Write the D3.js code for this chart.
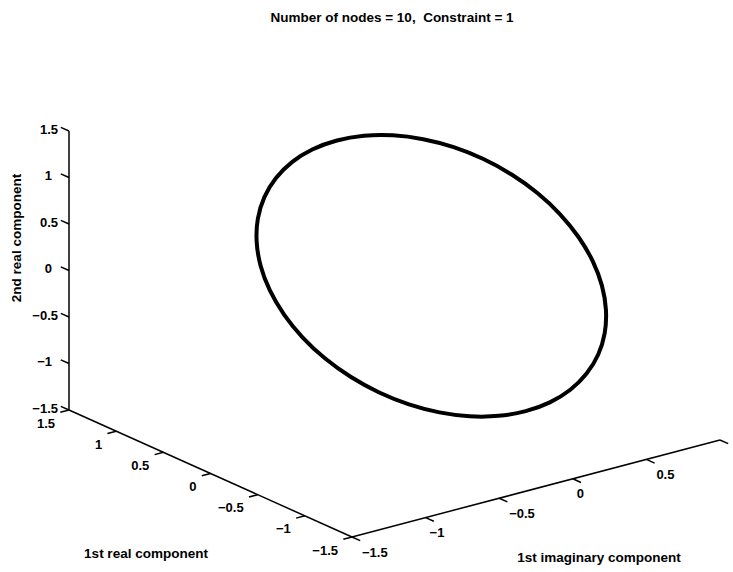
<!DOCTYPE html>
<html>
<head>
<meta charset="utf-8">
<script src="https://cdn.jsdelivr.net/npm/d3@7"></script>
<style>
  body { margin: 0; background: #fff; }
  text { font-family: "Liberation Sans", Arial, Helvetica, sans-serif; font-weight: bold; fill: #000; }
</style>
</head>
<body>
<svg width="733" height="572"></svg>
<script>
// curve points: 1st real, 1st imaginary, 2nd real component
var real1 = [1.000, 0.985, 0.940, 0.866, 0.766, 0.643, 0.500, 0.342, 0.174, 0.000, -0.174, -0.342,
             -0.500, -0.643, -0.766, -0.866, -0.940, -0.985, -1.000, -0.985, -0.940, -0.866, -0.766, -0.643,
             -0.500, -0.342, -0.174, 0.000, 0.174, 0.342, 0.500, 0.643, 0.766, 0.866, 0.940, 0.985];
var imag1 = [0.000, 0.174, 0.342, 0.500, 0.643, 0.766, 0.866, 0.940, 0.985, 1.000, 0.985, 0.940,
             0.866, 0.766, 0.643, 0.500, 0.342, 0.174, 0.000, -0.174, -0.342, -0.500, -0.643, -0.766,
             -0.866, -0.940, -0.985, -1.000, -0.985, -0.940, -0.866, -0.766, -0.643, -0.500, -0.342, -0.174];
var real2 = [1.000, 0.985, 0.940, 0.866, 0.766, 0.643, 0.500, 0.342, 0.174, 0.000, -0.174, -0.342,
             -0.500, -0.643, -0.766, -0.866, -0.940, -0.985, -1.000, -0.985, -0.940, -0.866, -0.766, -0.643,
             -0.500, -0.342, -0.174, 0.000, 0.174, 0.342, 0.500, 0.643, 0.766, 0.866, 0.940, 0.985];

var realTicks = [-1.5, -1, -0.5, 0, 0.5, 1, 1.5];
var realTickLabels = ["\u22121.5", "\u22121", "\u22120.5", "0", "0.5", "1", "1.5"];
var imagTicks = [-1.5, -1, -0.5, 0, 0.5, 1];
var imagTickLabels = ["\u22121.5", "\u22121", "\u22120.5", "0", "0.5", ""];
var zTicks = [-1.5, -1, -0.5, 0, 0.5, 1, 1.5];
var zTickLabels = ["\u22121.5", "\u22121", "\u22120.5", "0", "0.5", "1", "1.5"];

var titleText = "Number of nodes = 10,\u00a0 Constraint = 1";

var svg = d3.select("svg");

// each axis scale maps data onto 0..1 along its edge of the box
var xS = d3.scaleLinear().domain([-1.5, 1.5]).range([0, 1]);
var yS = d3.scaleLinear().domain([-1.5, 1]).range([0, 1]);
var zS = d3.scaleLinear().domain([-1.5, 1.5]).range([0, 1]);

// screen corner of (-1.5,-1.5,-1.5) and the edge vectors of the box
var O = [352, 537], VX = [-283, -127], VY = [368, -97], VZ = [0, -279];

function proj(x, y, z) {
    var a = xS(x), b = yS(y), c = zS(z);
    return [O[0] + a * VX[0] + b * VY[0] + c * VZ[0],
            O[1] + a * VX[1] + b * VY[1] + c * VZ[1]];
}
function unit(v) { var l = Math.hypot(v[0], v[1]); return [v[0] / l, v[1] / l]; }

var tickLen = 9, fs = 13;
var ux = unit(VX), uy = unit(VY);

var axes = svg.append("g").attr("stroke", "#000").attr("stroke-width", 1.5).attr("fill", "none");

function axisLine(p0, p1) {
    axes.append("line").attr("x1", p0[0]).attr("y1", p0[1]).attr("x2", p1[0]).attr("y2", p1[1]);
}
axisLine(proj(-1.5, -1.5, -1.5), proj(1.5, -1.5, -1.5));
axisLine(proj(-1.5, -1.5, -1.5), proj(-1.5, 1, -1.5));
axisLine(proj(1.5, -1.5, -1.5), proj(1.5, -1.5, 1.5));

// real axis ticks
realTicks.forEach(function(t, i) {
    var p = proj(t, yS.domain()[0], zS.domain()[0]);
    var q = [p[0] - uy[0] * tickLen, p[1] - uy[1] * tickLen];
    axes.append("line").attr("x1", p[0]).attr("y1", p[1]).attr("x2", q[0]).attr("y2", q[1]);
    svg.append("text").attr("x", p[0] - 14).attr("y", p[1] + 13)
        .attr("dy", "0.35em").attr("text-anchor", "end").attr("font-size", fs)
        .text(realTickLabels[i]);
});

// imaginary axis ticks
imagTicks.forEach(function(t, i) {
    var p = proj(xS.domain()[0], t, zS.domain()[0]);
    var q = [p[0] - ux[0] * tickLen, p[1] - ux[1] * tickLen];
    axes.append("line").attr("x1", p[0]).attr("y1", p[1]).attr("x2", q[0]).attr("y2", q[1]);
    var lab = imagTickLabels[i];
    svg.append("text").attr("x", p[0] + (lab.indexOf(".") < 0 ? 4 : 10)).attr("y", p[1] + 15)
        .attr("dy", "0.35em").attr("text-anchor", "start").attr("font-size", fs)
        .text(lab);
});

// vertical axis ticks
zTicks.forEach(function(t, i) {
    var p = proj(xS.domain()[1], yS.domain()[0], t);
    var q = [p[0] + ux[0] * tickLen, p[1] + ux[1] * tickLen];
    axes.append("line").attr("x1", p[0]).attr("y1", p[1]).attr("x2", q[0]).attr("y2", q[1]);
    var lab = zTickLabels[i];
    svg.append("text").attr("x", 58 - (lab.indexOf(".") < 0 ? 6 : 0)).attr("y", p[1] - 2)
        .attr("dy", "0.35em").attr("text-anchor", "end").attr("font-size", fs)
        .text(lab);
});

// the curve
var pts = real1.map(function(d, i) { return proj(d, imag1[i], real2[i]); });
svg.append("path")
    .attr("d", d3.line().curve(d3.curveCatmullRomClosed)(pts))
    .attr("fill", "none")
    .attr("stroke", "#000")
    .attr("stroke-width", 4);

// titles
svg.append("text").attr("x", 392).attr("y", 22).attr("text-anchor", "middle")
    .attr("font-size", 13.5).text(titleText);
svg.append("text").attr("x", 146).attr("y", 558).attr("text-anchor", "middle")
    .attr("font-size", 13.5).text("1st real component");
svg.append("text").attr("x", 599).attr("y", 562).attr("text-anchor", "middle")
    .attr("font-size", 13.5).text("1st imaginary component");
svg.append("text").attr("transform", "translate(21,238) rotate(-90)").attr("text-anchor", "middle")
    .attr("font-size", 13.5).text("2nd real component");
</script>
</body>
</html>
